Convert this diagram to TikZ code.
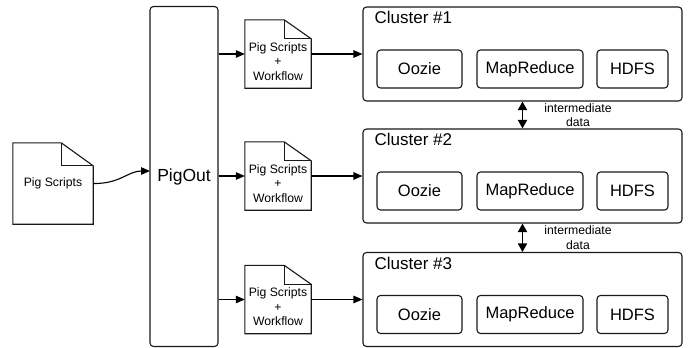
\documentclass[tikz,border=0pt]{standalone}
\usepackage{fontspec}
\setmainfont{Liberation Sans}
\usetikzlibrary{arrows.meta,calc}
\tikzset{
  box/.style={draw=black!90, line width=1.1pt, rounded corners=3.5pt, inner sep=0pt},
  docnode/.style={draw=none, inner sep=0pt},
  doctext/.style={font=\fontsize{12.2}{14.5}\selectfont, align=center, inner sep=0pt},
  innerlbl/.style={font=\fontsize{16.5}{19}\selectfont},
  conn/.style={line width=1.1pt, draw=black, -{Triangle[length=9pt,width=7.5pt]}},
  dconn/.style={line width=1.8pt, draw=black, {Triangle[length=8.5pt,width=9pt]}-{Triangle[length=8.5pt,width=9pt]}},
  doclinestyle/.style={line width=1.1pt, draw=black!90, line join=miter}
}
\newcommand\docoutline[3]{%
  \draw[doclinestyle] (#1.south west) -- (#1.north west) -- ([xshift=-#2]#1.north east) -- ([yshift=-#3]#1.north east) -- (#1.south east) -- cycle;
  \draw[doclinestyle] ([xshift=-#2]#1.north east) |- ([yshift=-#3]#1.north east);}
\begin{document}
\begin{tikzpicture}[x=1pt,y=-1pt]
\useasboundingbox (0,0) rectangle (689,348);
\fill[white] (0,0) rectangle (689,348);
% left document
\node[docnode, minimum width=80pt, minimum height=81pt] (ld) at (53,183.5) {};
\docoutline{ld}{32pt}{23pt}
\node[doctext] (ldt) at (ld.center) {Pig Scripts};
% PigOut
\node[box, minimum width=68pt, minimum height=340pt, font=\fontsize{17.5}{20}\selectfont] (po) at (184,176.5) {PigOut};
% clusters
\foreach \i/\y in {1/54,2/176,3/299.5}{
  \node[box, minimum width=319pt, minimum height=94pt] (c\i) at (522.5,\y) {};
  \node[font=\fontsize{17}{19}\selectfont, anchor=west, inner sep=0pt] (c\i l) at ($(c\i.north west)+(12,11)$) {Cluster \#\i};
  \node[box, innerlbl, minimum width=85pt, minimum height=38pt] (oz\i) at (419.5,\y+15) {Oozie};
  \node[box, innerlbl, minimum width=106pt, minimum height=38pt] (mr\i) at (530,\y+15) {MapReduce};
  \node[box, innerlbl, minimum width=71pt, minimum height=38pt] (hd\i) at (632.5,\y+15) {HDFS};
  \node[docnode, minimum width=66pt, minimum height=68pt] (d\i) at (278,\y) {};
  \docoutline{d\i}{27pt}{19pt}
  \node[doctext] (d\i t) at ([yshift=-7.5pt]d\i.center) {Pig Scripts\\+\\Workflow};
  \draw[conn] (po.east |- d\i.west) -- (d\i.west);
  \draw[conn] (d\i.east) -- (c\i.west |- d\i.east);
}
% left curve
\coordinate (pin) at (150,171);
\draw[line width=1.1pt, -{Triangle[length=9pt,width=7.5pt]}] (ld.east) .. controls (120,184) and (128,171) .. (pin);
% intermediate data
\draw[dconn] (c1.south) -- (c2.north);
\draw[dconn] (c2.south) -- (c3.north);
\node[doctext] (im1) at (578,115) {intermediate\\data};
\node[doctext] (im2) at (578,237.5) {intermediate\\data};
\end{tikzpicture}
\end{document}
